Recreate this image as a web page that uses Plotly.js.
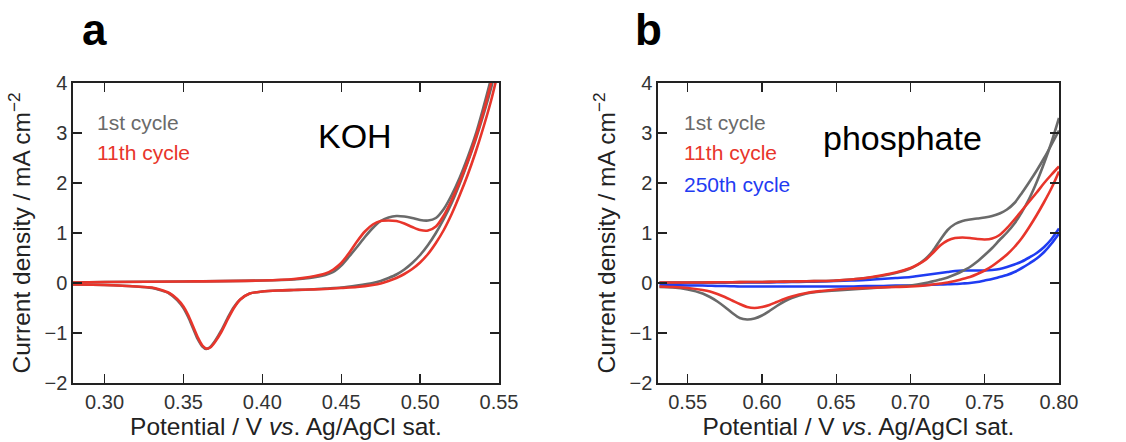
<!DOCTYPE html>
<html>
<head>
<meta charset="utf-8">
<script src="https://cdn.plot.ly/plotly-3.0.1.min.js"></script>
<style>html,body{margin:0;padding:0;background:#fff;}#chart{width:1126px;height:442px;}</style>
</head>
<body>
<div id="chart"></div>
<script>
// ---------- Panel a (KOH) ----------
const a_fwd_x = [0.28,0.30,0.35,0.40,0.42,0.43,0.44,0.445,0.45,0.455,0.46,0.465,0.47,0.475,0.48,0.485,0.49,0.495,0.50,0.505,0.51,0.515,0.52,0.525,0.53,0.535,0.54,0.545,0.55];
const a_rev_x = [0.55,0.545,0.54,0.535,0.53,0.525,0.52,0.515,0.51,0.505,0.50,0.495,0.49,0.485,0.48,0.475,0.47,0.46,0.45,0.44,0.43,0.42,0.41,0.40,0.392,0.386,0.382,0.378,0.374,0.37,0.367,0.3645,0.362,0.359,0.356,0.353,0.35,0.346,0.341,0.335,0.33,0.32,0.30,0.28];
const a_1st_fwd = [0.01,0.02,0.03,0.05,0.07,0.10,0.16,0.22,0.35,0.53,0.72,0.92,1.10,1.24,1.31,1.34,1.33,1.30,1.26,1.25,1.30,1.48,1.76,2.10,2.50,2.95,3.50,4.10,4.80];
const a_1st_rev = [4.60,3.90,3.35,2.85,2.40,1.98,1.60,1.28,1.00,0.76,0.56,0.40,0.27,0.17,0.10,0.04,0.00,-0.05,-0.09,-0.11,-0.13,-0.14,-0.15,-0.17,-0.21,-0.33,-0.48,-0.70,-0.95,-1.16,-1.28,-1.32,-1.27,-1.12,-0.90,-0.68,-0.50,-0.34,-0.21,-0.14,-0.10,-0.07,-0.04,-0.03];
const a_11th_fwd = [0.01,0.02,0.03,0.05,0.08,0.12,0.19,0.27,0.40,0.60,0.83,1.03,1.17,1.24,1.25,1.24,1.19,1.12,1.06,1.05,1.13,1.35,1.66,2.02,2.42,2.88,3.40,4.00,4.65];
const a_11th_rev = [4.30,3.65,3.10,2.60,2.15,1.75,1.38,1.06,0.80,0.58,0.41,0.28,0.18,0.10,0.04,-0.01,-0.04,-0.08,-0.10,-0.12,-0.13,-0.14,-0.15,-0.17,-0.21,-0.33,-0.50,-0.73,-0.98,-1.18,-1.29,-1.31,-1.25,-1.08,-0.86,-0.64,-0.47,-0.32,-0.20,-0.13,-0.09,-0.07,-0.04,-0.03];

// ---------- Panel b (phosphate) ----------
const b_fwd_x = [0.531,0.54,0.55,0.56,0.57,0.58,0.59,0.60,0.61,0.62,0.63,0.64,0.65,0.66,0.67,0.68,0.69,0.70,0.705,0.71,0.715,0.72,0.725,0.73,0.735,0.74,0.745,0.75,0.755,0.76,0.765,0.77,0.775,0.78,0.785,0.79,0.795,0.80];
const b_rev_x = [0.80,0.795,0.79,0.785,0.78,0.775,0.77,0.765,0.76,0.755,0.75,0.745,0.74,0.735,0.73,0.725,0.72,0.71,0.70,0.69,0.68,0.67,0.66,0.65,0.64,0.63,0.62,0.615,0.61,0.605,0.60,0.595,0.59,0.585,0.58,0.575,0.57,0.565,0.56,0.55,0.54,0.531];
const b_1st_fwd = [0.01,0.01,0.01,0.01,0.015,0.015,0.02,0.02,0.025,0.03,0.035,0.04,0.05,0.07,0.10,0.14,0.20,0.29,0.37,0.48,0.64,0.86,1.06,1.18,1.24,1.27,1.29,1.31,1.34,1.39,1.47,1.60,1.80,2.02,2.25,2.50,2.77,3.05];
const b_1st_rev = [3.30,2.82,2.40,2.02,1.69,1.42,1.19,1.01,0.86,0.70,0.56,0.43,0.32,0.24,0.17,0.11,0.07,0.00,-0.05,-0.07,-0.09,-0.11,-0.13,-0.15,-0.17,-0.21,-0.30,-0.37,-0.46,-0.56,-0.65,-0.71,-0.73,-0.70,-0.60,-0.48,-0.37,-0.28,-0.21,-0.13,-0.09,-0.08];
const b_11th_fwd = [0.01,0.01,0.01,0.01,0.015,0.015,0.02,0.02,0.025,0.03,0.035,0.04,0.05,0.07,0.10,0.15,0.21,0.30,0.37,0.46,0.60,0.75,0.85,0.90,0.91,0.90,0.88,0.87,0.89,0.96,1.10,1.27,1.45,1.63,1.81,2.00,2.17,2.33];
const b_11th_rev = [2.23,1.90,1.62,1.36,1.12,0.90,0.72,0.57,0.45,0.34,0.25,0.18,0.12,0.08,0.04,0.01,-0.01,-0.05,-0.07,-0.08,-0.09,-0.10,-0.11,-0.13,-0.16,-0.20,-0.27,-0.32,-0.38,-0.44,-0.48,-0.50,-0.48,-0.42,-0.35,-0.28,-0.22,-0.17,-0.14,-0.10,-0.08,-0.07];
const b_250th_fwd = [0.00,0.00,0.00,0.005,0.005,0.01,0.01,0.01,0.015,0.02,0.025,0.03,0.04,0.05,0.06,0.08,0.10,0.12,0.14,0.16,0.18,0.20,0.22,0.24,0.25,0.25,0.25,0.25,0.26,0.28,0.32,0.37,0.43,0.51,0.60,0.72,0.88,1.09];
const b_250th_rev = [0.99,0.79,0.62,0.49,0.39,0.30,0.22,0.16,0.12,0.08,0.05,0.02,0.00,-0.01,-0.02,-0.025,-0.03,-0.04,-0.05,-0.05,-0.06,-0.06,-0.07,-0.07,-0.07,-0.07,-0.07,-0.07,-0.07,-0.07,-0.07,-0.07,-0.07,-0.07,-0.065,-0.06,-0.06,-0.055,-0.05,-0.05,-0.045,-0.04];

const xTicksA = [0.30,0.35,0.40,0.45,0.50,0.55];
const xTicksB = [0.55,0.60,0.65,0.70,0.75,0.80];
const yTicks = [-2,-1,0,1,2,3,4];
const cycleLabels = ['1st cycle','11th cycle','250th cycle'];
const panelTitles = ['KOH','phosphate'];
const yTitle = 'Current density / mA cm<sup>\u22122</sup>';
const xTitle = 'Potential / V <i>vs</i>. Ag/AgCl sat.';

const GRAY = '#6a6a6a', RED = '#e8352b', BLUE = '#1f3cf2';
const FONT = 'Liberation Sans, Arial, Helvetica, sans-serif';
const W = 1126, H = 442;
const px = v => v / W, py = v => 1 - v / H;

function line(x, y, color, xa, ya) {
  return {x: x, y: y, type: 'scatter', mode: 'lines', xaxis: xa, yaxis: ya,
    line: {color: color, width: 2.6, shape: 'spline', smoothing: 0.8},
    hoverinfo: 'skip', showlegend: false, cliponaxis: true};
}
const data = [
  line(a_fwd_x, a_1st_fwd, GRAY, 'x', 'y'),
  line(a_rev_x, a_1st_rev, GRAY, 'x', 'y'),
  line(a_fwd_x, a_11th_fwd, RED, 'x', 'y'),
  line(a_rev_x, a_11th_rev, RED, 'x', 'y'),
  line(b_fwd_x, b_250th_fwd, BLUE, 'x2', 'y2'),
  line(b_rev_x, b_250th_rev, BLUE, 'x2', 'y2'),
  line(b_fwd_x, b_1st_fwd, GRAY, 'x2', 'y2'),
  line(b_rev_x, b_1st_rev, GRAY, 'x2', 'y2'),
  line(b_fwd_x, b_11th_fwd, RED, 'x2', 'y2'),
  line(b_rev_x, b_11th_rev, RED, 'x2', 'y2')
];

const axCommon = {
  showline: true, linecolor: '#222', linewidth: 1.6, mirror: 'ticks',
  ticks: 'inside', ticklen: 9, tickwidth: 1.4, tickcolor: '#222',
  showgrid: false, zeroline: false, fixedrange: true,
  tickfont: {family: FONT, size: 20, color: '#333'}
};
function xax(domain, range, ticks, anchor) {
  return Object.assign({}, axCommon, {domain: domain, range: range, anchor: anchor,
    tickvals: ticks, ticktext: ticks.map(t => t.toFixed(2)),
    title: {text: xTitle, font: {family: FONT, size: 24.5, color: '#222'}, standoff: 5}});
}
function yax(anchor) {
  return Object.assign({}, axCommon, {domain: [py(383), py(83)], range: [-2, 4], anchor: anchor,
    tickvals: yTicks, ticktext: yTicks.map(t => t < 0 ? '\u2212' + Math.abs(t) : String(t)),
    title: {text: yTitle, font: {family: FONT, size: 24.5, color: '#222'}, standoff: 7}});
}

function txt(x, y, s, color, size, anchor) {
  return {xref: 'paper', yref: 'paper', x: px(x), y: py(y), text: s, showarrow: false,
    xanchor: anchor || 'left', yanchor: 'middle', font: {family: FONT, size: size, color: color}};
}

const layout = {
  width: W, height: H, margin: {l: 0, r: 0, t: 0, b: 0},
  paper_bgcolor: '#fff', plot_bgcolor: '#fff', showlegend: false,
  xaxis: xax([px(73), px(499)], [0.28, 0.55], xTicksA, 'y'),
  yaxis: yax('x'),
  xaxis2: xax([px(658), px(1059)], [0.53, 0.80], xTicksB, 'y2'),
  yaxis2: yax('x2'),
  annotations: [
    txt(95, 30, '<b>a</b>', '#000', 44, 'center'),
    txt(648, 30, '<b>b</b>', '#000', 44, 'center'),
    txt(95, 122, cycleLabels[0], GRAY, 21),
    txt(95, 152, cycleLabels[1], RED, 21),
    txt(355, 136, panelTitles[0], '#000', 34, 'center'),
    txt(682, 122, cycleLabels[0], GRAY, 21),
    txt(682, 152, cycleLabels[1], RED, 21),
    txt(682, 184, cycleLabels[2], BLUE, 21),
    txt(902, 138, panelTitles[1], '#000', 34, 'center')
  ]
};

Plotly.newPlot('chart', data, layout, {staticPlot: true, displayModeBar: false});
</script>
</body>
</html>
